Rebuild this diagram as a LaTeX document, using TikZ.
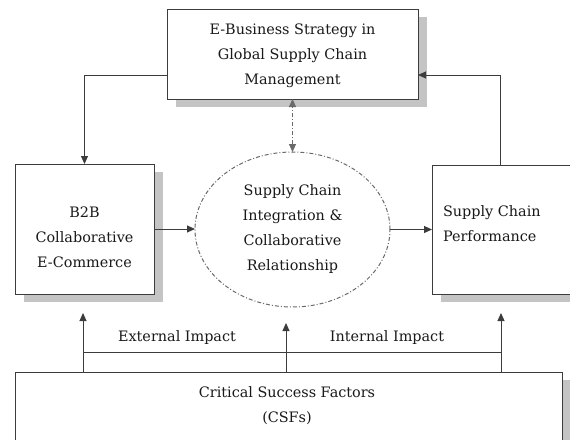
\documentclass[tikz,border=0pt]{standalone}
\usepackage{fontspec}
\setmainfont{DejaVu Serif}
\usetikzlibrary{arrows.meta,shapes.geometric,shadows}
\definecolor{edge}{HTML}{3C3C3C}
\definecolor{shade}{HTML}{C4C4C4}
\definecolor{dotline}{HTML}{6A6A6A}
\begin{document}
\begin{tikzpicture}[x=1pt,y=-1pt,
  every node/.style={font=\fontsize{14.4}{25}\selectfont, inner sep=0pt, outer sep=0pt},
  box/.style={draw=edge, line width=1pt, fill=white, rectangle,
    drop shadow={shadow xshift=9pt, shadow yshift=-8pt, fill=shade, opacity=1}},
  tip/.style={},
  arr/.style={draw=edge, line width=1pt, -{Triangle[length=8pt,width=7pt]}},
  link/.style={draw=edge, line width=1pt},
  dashdot/.style={draw=dotline, line width=1pt, dash pattern=on 4pt off 2pt on 1pt off 2pt},
  txt/.style={align=center, text=black!90}
]
\useasboundingbox (0,0) rectangle (570,439);
\clip (0,0) rectangle (570,439);

% boxes
\node[box, minimum width=251pt, minimum height=90pt] (top) at (292.5,54) {};
\node[txt] (toptext) at (292.5,56) {E-Business Strategy in\\Global Supply Chain\\Management};
\node[box, minimum width=139pt, minimum height=130pt] (b2b) at (84.5,229) {};
\node[txt] (b2btext) at (84.5,237.5) {B2B\\Collaborative\\E-Commerce};
\node[box, minimum width=158pt, minimum height=129pt] (perf) at (511,229.5) {};
\node[txt, anchor=west, align=left] (perftext) at (443,224) {Supply Chain\\Performance};
\node[box, minimum width=547pt, minimum height=90pt] (csf) at (288.5,417) {};
\node[txt] (csftext) at (287,406) {Critical Success Factors\\(CSFs)};

% central ellipse
\node[ellipse, dashdot, minimum width=195pt, minimum height=155pt, txt] (ell) at (292.5,229.5)
  {Supply Chain\\Integration \&\\Collaborative\\Relationship};

% connectors between strategy, B2B and performance
\draw[arr] ([yshift=-21pt]top.west) -| (b2b.north);
\draw[arr] ([xshift=68pt]perf.north west) |- ([yshift=-21pt]top.east);
\draw[dashdot, {Triangle[length=8pt,width=7pt]}-{Triangle[length=8pt,width=7pt]}] (ell.north) -- (top.south);
\draw[arr] (b2b.east) -- (b2b.east -| ell.west);
\draw[arr] (ell.east) -- (ell.east -| perf.west);

% impacts of the critical success factors
\coordinate (tipL) at (83,313);
\coordinate (tipM) at (286,323);
\coordinate (tipR) at (501,313);
\coordinate (barL) at (83,352);
\coordinate (barR) at (501,352);
\draw[arr] (csf.north -| tipL) -- (tipL);
\draw[arr] (csf.north -| tipM) -- (tipM);
\draw[arr] (csf.north -| tipR) -- (tipR);
\draw[link] (barL) -- (barR);
\node[txt] (ext) at (177,338) {External Impact};
\node[txt] (int) at (387,338) {Internal Impact};
\end{tikzpicture}
\end{document}
